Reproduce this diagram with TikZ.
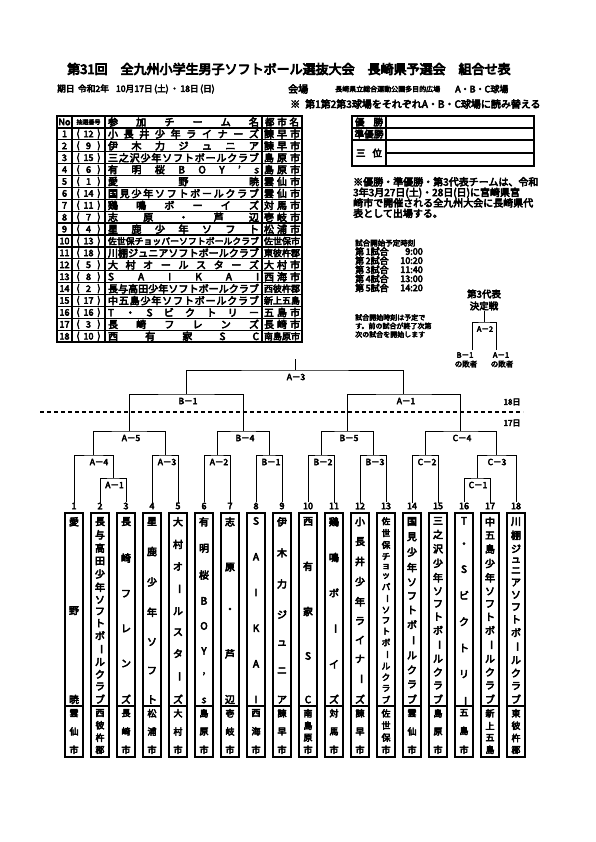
\documentclass[tikz,border=0pt]{standalone}
\usepackage{fontspec}
\usepackage{graphicx}
\setmainfont{Noto Sans CJK JP}[FakeBold=5]
\newfontfamily\mainjp{Noto Sans CJK JP}[FakeBold=5]
\newfontfamily\titlejp{Noto Sans CJK JP}[FakeBold=6]
\makeatletter
\newif\iffirstch
\def\vdashchar{ー}
\newcommand\vc[1]{\ifx#1\vdashchar\rotatebox[origin=c]{-90}{ー}\else#1\fi}
\newcommand\hspread[2]{\makebox[#1][s]{\firstchtrue\edef\sp@list{#2}\expandafter\@tfor\expandafter\ch\expandafter:\expandafter=\sp@list\do{\iffirstch\firstchfalse\else\hfill\fi\ch}}}
\newcommand\vname[2]{\parbox[t][#1][s]{16pt}{\offinterlineskip\firstchtrue\edef\sp@list{#2}\expandafter\@tfor\expandafter\ch\expandafter:\expandafter=\sp@list\do{\iffirstch\firstchfalse\else\vfill\fi\hbox to\hsize{\hss\vc\ch\hss}}}}
\makeatother
\begin{document}
\begin{tikzpicture}[x=1pt,y=-1pt,
  every node/.style={inner sep=0pt},
  lbl/.style={font=\fontsize{8.5}{8.5}\selectfont},
  slbl/.style={font=\fontsize{7.5}{7.5}\selectfont},
  br/.style={line width=1pt},
  tnum/.style={font=\fontsize{9}{9}\selectfont},
  tbox/.style={draw,line width=1.7pt,minimum width=18pt,minimum height=244pt},
  grid/.style={line width=1.3pt},
]
\fill[white] (0,0) rectangle (595,842);
\useasboundingbox (0,0) rectangle (595,842);

% ---------- heading ----------
\node[anchor=west,font=\titlejp\fontsize{13}{13}\selectfont] (title) at (67,69)
  {第31回\hspace{1em}全九州小学生男子ソフトボール選抜大会\hspace{1em}長崎県予選会\hspace{1em}組合せ表};
\node[anchor=west,font=\fontsize{8.7}{8.7}\selectfont] (date) at (57,89)
  {期日\hspace{0.4em}令和2年\hspace{0.8em}10月17日\,(土)\,・\,18日\,(日)};
\node[anchor=west,font=\fontsize{10}{10}\selectfont] (venuelbl) at (288,89) {会場};
\node[anchor=west,font=\fontsize{7}{7}\selectfont] (venue) at (335,89)
  {長崎県立総合運動公園多目的広場};
\node[anchor=west,font=\fontsize{9}{9}\selectfont] (fields) at (455,89) {A・B・C球場};
\node[anchor=west,font=\fontsize{10}{10}\selectfont] (note) at (290,104)
  {※\hspace{0.5em}第1第2第3球場をそれぞれA・B・C球場に読み替える};

% ---------- entry table ----------
\draw[grid] (57,116) rectangle (302,342.1);
\foreach \k in {1,...,18} \draw[grid] (57,116+\k*11.9) -- (302,116+\k*11.9);
\foreach \xx in {72,105,262} \draw[grid] (\xx,116) -- (\xx,342.1);
\node[font=\fontsize{9}{9}\selectfont] (hno) at (64.5,122) {No};
\node[font=\fontsize{6}{6}\selectfont] (hdraw) at (88.5,122) {抽選番号};
\node[font=\fontsize{10}{10}\selectfont] (hteam) at (183.5,122) {\hspread{151pt}{参加チーム名}};
\node[font=\fontsize{9.5}{9.5}\selectfont] (hcity) at (282,122) {\hspread{34pt}{都市名}};
\foreach \dr/\nm/\ct/\fn/\fc [count=\i] in {
  12/小長井少年ライナーズ/諫早市/10/10,
  9/伊木力ジュニア/諫早市/10/10,
  15/三之沢少年ソフトボールクラブ/島原市/10/10,
  6/有明桜BOY’s/島原市/10/10,
  1/愛野暁/雲仙市/10/10,
  14/国見少年ソフトボールクラブ/雲仙市/10/10,
  11/鶏鳴ボーイズ/対馬市/10/10,
  7/志原・芦辺/壱岐市/10/10,
  4/星鹿少年ソフト/松浦市/10/10,
  13/佐世保チョッパーソフトボールクラブ/佐世保市/8.8/9,
  18/川棚ジュニアソフトボールクラブ/東彼杵郡/10/9,
  5/大村オールスターズ/大村市/10/10,
  8/SAIKAI/西海市/10/10,
  2/長与高田少年ソフトボールクラブ/西彼杵郡/10/9,
  17/中五島少年ソフトボールクラブ/新上五島/10/9,
  16/T・Sビクトリー/五島市/10/10,
  3/長崎フレンズ/長崎市/10/10,
  10/西有家SC/南島原市/10/9}
{
  \pgfmathsetmacro\yy{128+(\i-0.5)*11.9}
  \node[font=\fontsize{9}{9}\selectfont] (no\i) at (64.5,\yy) {\i};
  \node[font=\fontsize{9}{9}\selectfont] (lp\i) at (78,\yy) {(};
  \node[font=\fontsize{9}{9}\selectfont] (dr\i) at (88.5,\yy) {\dr};
  \node[font=\fontsize{9}{9}\selectfont] (rp\i) at (99,\yy) {)};
  \node[font=\fontsize{\fn}{\fn}\selectfont] (nm\i) at (183.5,\yy) {\hspread{151pt}{\nm}};
  \node[font=\fontsize{\fc}{\fc}\selectfont] (ct\i) at (282,\yy) {\hspread{36pt}{\ct}};
}

% ---------- result box ----------
\draw[grid] (352,116) rectangle (534,166);
\draw[grid] (352,128) -- (534,128);
\draw[grid] (352,140) -- (534,140);
\draw[grid] (386,153) -- (534,153);
\draw[grid] (386,116) -- (386,166);
\node[font=\fontsize{9.5}{9.5}\selectfont] (win) at (369,122) {\hspread{28pt}{優勝}};
\node[font=\fontsize{9.5}{9.5}\selectfont] (runner) at (369,134) {\hspread{29pt}{準優勝}};
\node[font=\fontsize{9.5}{9.5}\selectfont] (third) at (369,153) {\hspread{26pt}{三位}};

\node[anchor=north west,align=left,font=\fontsize{10}{10.5}\selectfont] (para) at (353,177)
  {※優勝・準優勝・第3代表チームは、令和\\3年3月27日(土)・28日(日)に宮崎県宮\\崎市で開催される全九州大会に長崎県代\\表として出場する。};

\node[anchor=west,font=\fontsize{7.5}{7.5}\selectfont] (sched) at (355,243) {試合開始予定時刻};
\foreach \k/\tm in {1/9:00,2/10:20,3/11:40,4/13:00,5/14:20}{
  \pgfmathsetmacro\yy{251.5+(\k-1)*9.1}
  \node[anchor=west,font=\fontsize{9}{9}\selectfont] (g\k) at (355,\yy) {第\,\k 試合};
  \node[anchor=east,font=\fontsize{9}{9}\selectfont] (gt\k) at (423,\yy) {\tm};
}
\node[anchor=north west,align=left,font=\fontsize{7}{8.5}\selectfont] (pre) at (355,314)
  {試合開始時刻は予定で\\す。前の試合が終了次第\\次の試合を開始します};

% ---------- third place match ----------
\node[font=\fontsize{9.5}{9.5}\selectfont] (t3a) at (484,294) {第3代表};
\node[font=\fontsize{9.5}{9.5}\selectfont] (t3b) at (484,306) {決定戦};
\coordinate (m3rd) at (484,322);
\coordinate (l3) at (472,350);
\coordinate (r3) at (496,350);
\draw[br] (t3b.south) -- (m3rd);
\draw[br] (l3) |- (m3rd) -| (r3);
\node[slbl] (m3lbl) at (485,329) {A－2};
\node[slbl] (l3a) at (465,355) {B－1};
\node[slbl] (l3b) at (466,364) {の敗者};
\node[slbl] (r3a) at (501,355) {A－1};
\node[slbl] (r3b) at (502,364) {の敗者};

% ---------- teams ----------
\foreach \nm/\ct/\fs [count=\i] in {
  愛野暁/雲仙市/10,
  長与高田少年ソフトボールクラブ/西彼杵郡/10,
  長崎フレンズ/長崎市/10,
  星鹿少年ソフト/松浦市/10,
  大村オールスターズ/大村市/10,
  有明桜BOY’s/島原市/10,
  志原・芦辺/壱岐市/10,
  SAIKAI/西海市/10,
  伊木力ジュニア/諫早市/10,
  西有家SC/南島原市/10,
  鶏鳴ボーイズ/対馬市/10,
  小長井少年ライナーズ/諫早市/10,
  佐世保チョッパーソフトボールクラブ/佐世保市/8.6,
  国見少年ソフトボールクラブ/雲仙市/10,
  三之沢少年ソフトボールクラブ/島原市/10,
  T・Sビクトリー/五島市/10,
  中五島少年ソフトボールクラブ/新上五島/10,
  川棚ジュニアソフトボールクラブ/東彼杵郡/10}
{
  \pgfmathsetmacro\cx{74+26*(\i-1)}
  \node[tnum] (n\i) at (\cx,506) {\i};
  \node[tbox] (b\i) at (\cx,635) {};
  \coordinate (dv\i) at (\cx,706);
  \draw[line width=1.7pt] (dv\i -| b\i.west) -- (dv\i -| b\i.east);
  \node[anchor=north] (v\i) at (\cx,517) {\fontsize{\fs}{\fs}\selectfont\vname{186pt}{\nm}};
  \node[anchor=north] (w\i) at (\cx,709) {\fontsize{9}{9}\selectfont\vname{44pt}{\ct}};
}

% ---------- bracket ----------
\coordinate (mA1) at (113,478);
\coordinate (mC1) at (477,478);
\coordinate (mA4) at (93.5,455);
\coordinate (mA3a) at (165,455);
\coordinate (mA2) at (217,455);
\coordinate (mB1a) at (269,455);
\coordinate (mB2) at (321,455);
\coordinate (mB3) at (373,455);
\coordinate (mC2) at (425,455);
\coordinate (mC3) at (496.5,455);
\coordinate (mA5) at (129.25,431);
\coordinate (mB4) at (243,431);
\coordinate (mB5) at (347,431);
\coordinate (mC4) at (460.75,431);
\coordinate (mB1s) at (186.1,394);
\coordinate (mA1s) at (403.9,394);
\coordinate (mF) at (295,370);
\coordinate (mFtop) at (295,359);

\draw[br] (n2.north) |- (mA1) -| (n3.north);
\draw[br] (n16.north) |- (mC1) -| (n17.north);
\draw[br] (n1.north) |- (mA4) -| (mA1);
\draw[br] (n4.north) |- (mA3a) -| (n5.north);
\draw[br] (n6.north) |- (mA2) -| (n7.north);
\draw[br] (n8.north) |- (mB1a) -| (n9.north);
\draw[br] (n10.north) |- (mB2) -| (n11.north);
\draw[br] (n12.north) |- (mB3) -| (n13.north);
\draw[br] (n14.north) |- (mC2) -| (n15.north);
\draw[br] (mC1) |- (mC3) -| (n18.north);
\draw[br] (mA4) |- (mA5) -| (mA3a);
\draw[br] (mA2) |- (mB4) -| (mB1a);
\draw[br] (mB2) |- (mB5) -| (mB3);
\draw[br] (mC2) |- (mC4) -| (mC3);
\draw[br] (mA5) |- (mB1s) -| (mB4);
\draw[br] (mB5) |- (mA1s) -| (mC4);
\draw[br] (mB1s) |- (mF) -| (mA1s);
\draw[br] (mF) -- (mFtop);

\node[lbl] (lA1) at (114.5,485) {A－1};
\node[lbl] (lC1) at (478,485) {C－1};
\node[lbl] (lA4) at (99,462) {A－4};
\node[lbl] (lA3a) at (167,462) {A－3};
\node[lbl] (lA2) at (219,462) {A－2};
\node[lbl] (lB1a) at (271,462) {B－1};
\node[lbl] (lB2) at (323,462) {B－2};
\node[lbl] (lB3) at (375,462) {B－3};
\node[lbl] (lC2) at (427,462) {C－2};
\node[lbl] (lC3) at (497,462) {C－3};
\node[lbl] (lA5) at (131,438) {A－5};
\node[lbl] (lB4) at (245,438) {B－4};
\node[lbl] (lB5) at (349,438) {B－5};
\node[lbl] (lC4) at (462,438) {C－4};
\node[lbl] (lB1s) at (188,401) {B－1};
\node[lbl] (lA1s) at (406,401) {A－1};
\node[lbl] (lF) at (296,377) {A－3};

% day divider
\coordinate (dl) at (40,412);
\coordinate (dr) at (523,412);
\draw[line width=1.3pt,dash pattern=on 4pt off 3pt] (dl) -- (dr);
\node[font=\fontsize{8}{8}\selectfont] (d18) at (512,402) {18日};
\node[font=\fontsize{8}{8}\selectfont] (d17) at (512,423) {17日};
\end{tikzpicture}
\end{document}
